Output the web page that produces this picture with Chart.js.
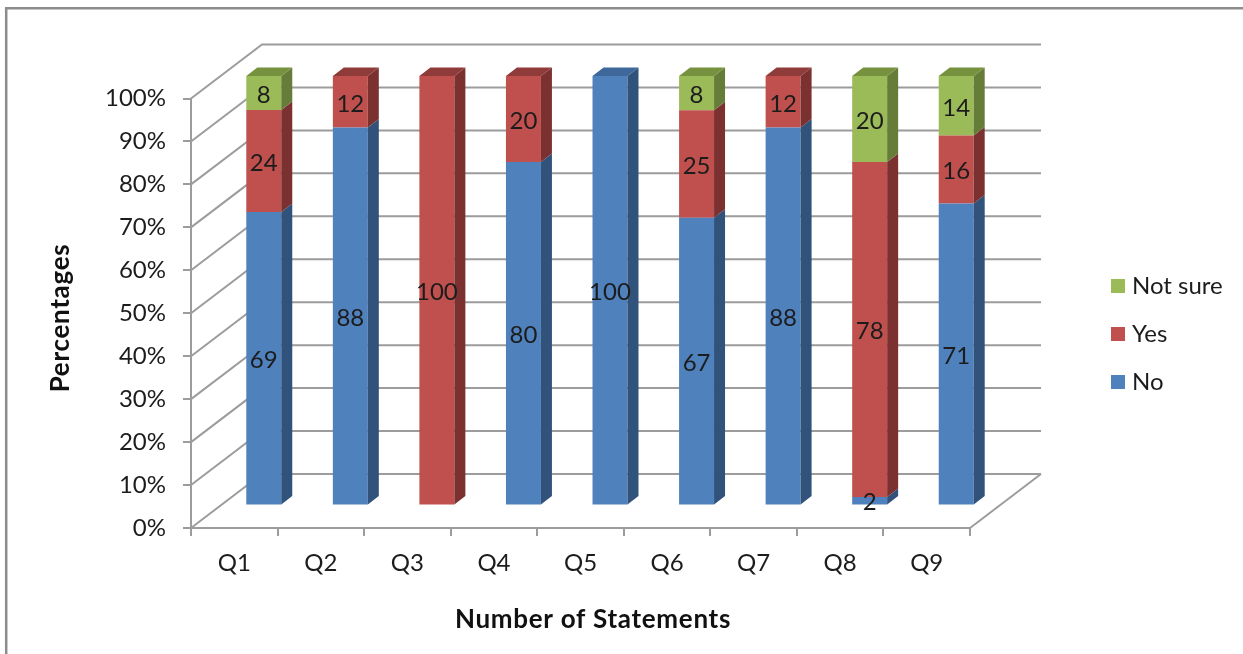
<!DOCTYPE html>
<html>
<head>
<meta charset="utf-8">
<title>Statements</title>
<script src="https://cdn.jsdelivr.net/npm/chart.js@4/dist/chart.umd.min.js"></script>
<style>
  html, body { margin: 0; padding: 0; background: #fff; }
  canvas { display: block; }
</style>
</head>
<body>
<canvas id="statements_chart" width="1243" height="654"></canvas>
<script>
categories = ['Q1', 'Q2', 'Q3', 'Q4', 'Q5', 'Q6', 'Q7', 'Q8', 'Q9']
noValues = [69, 88, 0, 80, 100, 67, 88, 2, 71]
yesValues = [24, 12, 100, 20, 0, 25, 12, 78, 16]
notSureValues = [8, 0, 0, 0, 0, 8, 0, 20, 14]
seriesNames = ['No', 'Yes', 'Not sure']
seriesValues = [noValues, yesValues, notSureValues]

FONT = 'Lato, Carlito, sans-serif'
TEXT = '#1c1c1c'
GRID = '#9c9c9c'
// front, side and top face of each series
faces = [
  { front: '#4f81bd', side: '#31527b', top: '#3d6899' },
  { front: '#c0504d', side: '#7b3130', top: '#8f3b39' },
  { front: '#9bbb59', side: '#667d3a', top: '#76923f' },
]
// wall depth, where the bars stand on the floor, and the depth of a bar
wall = { dx: 71, dy: -54 }
barShift = { dx: 29.5, dy: -22.5 }
barDepth = { dx: 11, dy: -8.5 }

// the value axis is 100% stacked, rows adding up to 101 get scaled down
function shares(values) {
  return values.map((v, j) => v / (noValues[j] + yesValues[j] + notSureValues[j]) * 100)
}

function poly(ctx, color, pts) {
  ctx.fillStyle = color
  ctx.beginPath()
  pts.forEach((p, i) => i ? ctx.lineTo(p[0], p[1]) : ctx.moveTo(p[0], p[1]))
  ctx.closePath()
  ctx.fill()
}

threeD = {
  id: 'threeD',
  beforeDraw(chart) {
    const ctx = chart.ctx
    ctx.save()
    ctx.strokeStyle = '#8c8c8c'
    ctx.lineWidth = 2.5
    ctx.beginPath()
    ctx.moveTo(6.2, 654)
    ctx.lineTo(6.2, 8.2)
    ctx.lineTo(1243, 8.2)
    ctx.stroke()
    ctx.restore()
  },
  beforeDatasetsDraw(chart) {
    const ctx = chart.ctx, y = chart.scales.y, area = chart.chartArea
    ctx.save()
    ctx.strokeStyle = GRID
    ctx.lineWidth = 2
    y.ticks.forEach(t => {
      const py = y.getPixelForValue(t.value)
      ctx.beginPath()
      ctx.moveTo(area.left, py)
      ctx.lineTo(area.left + wall.dx, py + wall.dy)
      ctx.lineTo(area.right + wall.dx, py + wall.dy)
      ctx.stroke()
    })
    // right edge of the floor
    ctx.beginPath()
    ctx.moveTo(area.right, area.bottom)
    ctx.lineTo(area.right + wall.dx, area.bottom + wall.dy)
    ctx.stroke()
    ctx.restore()
    ctx.save()
    ctx.translate(barShift.dx, barShift.dy)
  },
  afterDatasetsDraw(chart) {
    const ctx = chart.ctx
    const dx = barDepth.dx, dy = barDepth.dy
    categories.forEach((c, i) => {
      let topSeries = -1
      seriesValues.forEach((vals, s) => {
        if (!vals[i]) return
        topSeries = s
        const bar = chart.getDatasetMeta(s).data[i]
        const r = bar.x + bar.width / 2
        poly(ctx, faces[s].side, [[r, bar.base], [r + dx, bar.base + dy], [r + dx, bar.y + dy], [r, bar.y]])
      })
      const bar = chart.getDatasetMeta(topSeries).data[i]
      const l = bar.x - bar.width / 2, r = bar.x + bar.width / 2
      poly(ctx, faces[topSeries].top, [[l, bar.y], [l + dx, bar.y + dy], [r + dx, bar.y + dy], [r, bar.y]])
    })
    // value labels, as read in the source table
    ctx.fillStyle = TEXT
    ctx.font = '24px ' + FONT
    ctx.textAlign = 'center'
    ctx.textBaseline = 'middle'
    seriesValues.forEach((vals, s) => {
      vals.forEach((v, i) => {
        if (!v) return
        const bar = chart.getDatasetMeta(s).data[i]
        ctx.fillText(String(v), bar.x, (bar.y + bar.base) / 2 + 2)
      })
    })
    ctx.restore()
  },
  afterDraw(chart) {
    const ctx = chart.ctx
    ctx.save()
    // legend, last series on top
    ctx.textAlign = 'left'
    ctx.textBaseline = 'middle'
    ctx.font = '24px ' + FONT
    seriesNames.forEach((name, s) => {
      const y = 286 + (2 - s) * 48
      ctx.fillStyle = faces[s].front
      ctx.fillRect(1111, y - 7, 14, 14)
      ctx.fillStyle = TEXT
      ctx.fillText(name, 1132, y)
    })
    // axis titles
    ctx.fillStyle = '#111'
    ctx.font = 'bold 26px ' + FONT
    ctx.letterSpacing = '0.7px'
    ctx.textAlign = 'center'
    ctx.fillText('Number of Statements', 593, 620)
    ctx.translate(61, 318)
    ctx.rotate(-Math.PI / 2)
    ctx.fillText('Percentages', 0, 0)
    ctx.restore()
  },
}

config = {
  type: 'bar',
  data: {
    labels: categories,
    datasets: seriesValues.map((vals, s) => ({
      label: seriesNames[s],
      data: shares(vals),
      backgroundColor: faces[s].front,
      borderWidth: 0,
      clip: false,
      categoryPercentage: 1,
      barPercentage: 0.404,
    })),
  },
  options: {
    responsive: false,
    animation: false,
    layout: { padding: { top: 98.5, right: 273, bottom: 0, left: 0 } },
    plugins: {
      legend: { display: false },
      tooltip: { enabled: false },
    },
    scales: {
      x: {
        stacked: true,
        afterFit(scale) { scale.height = 126 },
        grid: { drawOnChartArea: false, color: GRID, lineWidth: 2, tickLength: 8, offset: true },
        border: { color: GRID, width: 2 },
        ticks: { color: TEXT, font: { family: FONT, size: 24 }, padding: 13, maxRotation: 0 },
      },
      y: {
        stacked: true,
        min: 0,
        max: 100,
        afterFit(scale) { scale.width = 191 },
        grid: { drawOnChartArea: false, color: GRID, lineWidth: 2, tickLength: 8 },
        border: { color: GRID, width: 2 },
        ticks: { color: TEXT, font: { family: FONT, size: 24 }, padding: 17, stepSize: 10, callback: v => v + '%' },
      },
    },
  },
}

new Chart(document.getElementById('statements_chart'), { ...config, plugins: [threeD] })
</script>
</body>
</html>
